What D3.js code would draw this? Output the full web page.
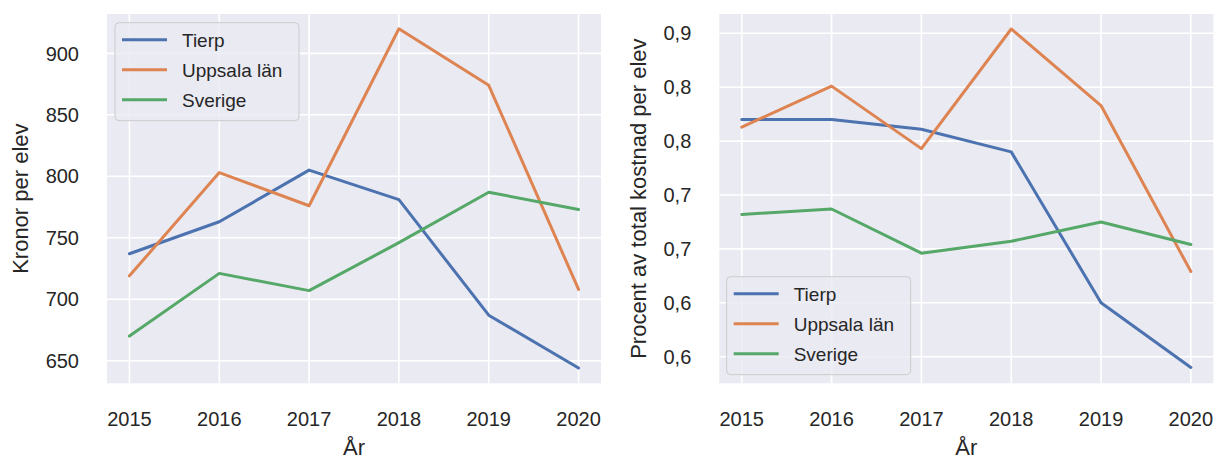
<!DOCTYPE html>
<html>
<head>
<meta charset="utf-8">
<script src="https://cdn.jsdelivr.net/npm/d3@7"></script>
<style>
  body { margin: 0; background: #fff; }
  svg { display: block; font-family: "Liberation Sans", Arial, sans-serif; }
  .tick-label { fill: #262626; font-size: 20px; }
  .axis-label { fill: #262626; font-size: 22px; }
  .legend-text { fill: #262626; font-size: 19px; }
</style>
</head>
<body>
<svg id="chart" width="1217" height="461"></svg>
<script>
// ---- data ----
const years = [2015, 2016, 2017, 2018, 2019, 2020]
const seriesNames = ['Tierp', 'Uppsala län', 'Sverige']

const kronorTierp = [737, 763, 805, 781, 687, 644]
const kronorUppsala = [719, 803, 776, 920, 874, 708]
const kronorSverige = [670, 721, 707, 746, 787, 773]

const andelTierp = [0.770, 0.770, 0.761, 0.740, 0.600, 0.540]
const andelUppsala = [0.763, 0.801, 0.743, 0.854, 0.783, 0.629]
const andelSverige = [0.682, 0.687, 0.646, 0.657, 0.675, 0.654]

const kronorTicks = [650, 700, 750, 800, 850, 900]
const kronorTickLabels = ['650', '700', '750', '800', '850', '900']
const andelTicks = [0.55, 0.60, 0.65, 0.70, 0.75, 0.80, 0.85]
const andelTickLabels = ['0,6', '0,6', '0,7', '0,7', '0,8', '0,8', '0,9']

const kronorDomain = [631.6, 932]
const andelDomain = [0.5253, 0.8679]

const COLORS = ['#4c72b0', '#dd8452', '#55a868']
const BG = '#eaeaf2'
const TOP = 14
const BOTTOM = 383.3
const PLOT_W = 494

const svg = d3.select('#chart')

const drawPanel = ({ left, series, ticks, tickLabels, domain, yLabel, yLabelX, legendPos }) => {
  const g = svg.append('g')

  const x = d3.scaleLinear().domain([2014.75, 2020.25]).range([left, left + PLOT_W])
  const y = d3.scaleLinear().domain(domain).range([BOTTOM, TOP])

  g.append('rect')
    .attr('x', left)
    .attr('y', TOP)
    .attr('width', PLOT_W)
    .attr('height', BOTTOM - TOP)
    .attr('fill', BG)

  // grid
  g.selectAll('.hgrid')
    .data(ticks)
    .enter()
    .append('line')
    .attr('x1', left)
    .attr('x2', left + PLOT_W)
    .attr('y1', (d) => y(d))
    .attr('y2', (d) => y(d))
    .attr('stroke', '#fff')
    .attr('stroke-width', 1.6)

  g.selectAll('.vgrid')
    .data(years)
    .enter()
    .append('line')
    .attr('x1', (d) => x(d))
    .attr('x2', (d) => x(d))
    .attr('y1', TOP)
    .attr('y2', BOTTOM)
    .attr('stroke', '#fff')
    .attr('stroke-width', 1.6)

  // tick labels
  g.selectAll('.ytick')
    .data(ticks)
    .enter()
    .append('text')
    .attr('class', 'tick-label')
    .attr('x', left - 28)
    .attr('y', (d) => y(d))
    .attr('dy', '0.36em')
    .attr('text-anchor', 'end')
    .text((d, i) => tickLabels[i])

  g.selectAll('.xtick')
    .data(years)
    .enter()
    .append('text')
    .attr('class', 'tick-label')
    .attr('x', (d) => x(d))
    .attr('y', BOTTOM + 28.4)
    .attr('dy', '0.71em')
    .attr('text-anchor', 'middle')
    .text((d) => d)

  // axis labels
  g.append('text')
    .attr('class', 'axis-label')
    .attr('x', left + PLOT_W / 2)
    .attr('y', 455)
    .attr('text-anchor', 'middle')
    .text('År')

  g.append('text')
    .attr('class', 'axis-label')
    .attr('transform', `translate(${yLabelX},${(TOP + BOTTOM) / 2}) rotate(-90)`)
    .attr('text-anchor', 'middle')
    .text(yLabel)

  // lines
  const line = d3
    .line()
    .x((d, i) => x(years[i]))
    .y((d) => y(d))

  g.selectAll('.series')
    .data(series)
    .enter()
    .append('path')
    .attr('d', line)
    .attr('fill', 'none')
    .attr('stroke', (d, i) => COLORS[i])
    .attr('stroke-width', 3)
    .attr('stroke-linejoin', 'round')
    .attr('stroke-linecap', 'round')

  // legend
  const lg = g.append('g').attr('transform', `translate(${legendPos[0]},${legendPos[1]})`)

  lg.append('rect')
    .attr('width', 184)
    .attr('height', 98)
    .attr('rx', 4)
    .attr('fill', BG)
    .attr('fill-opacity', 0.8)
    .attr('stroke', '#cccccc')
    .attr('stroke-width', 1)

  const items = lg
    .selectAll('.item')
    .data(seriesNames)
    .enter()
    .append('g')
    .attr('transform', (d, i) => `translate(0,${17 + i * 30})`)

  items
    .append('line')
    .attr('x1', 7)
    .attr('x2', 52)
    .attr('stroke', (d, i) => COLORS[i])
    .attr('stroke-width', 3)

  items
    .append('text')
    .attr('class', 'legend-text')
    .attr('x', 67)
    .attr('dy', '0.36em')
    .text((d) => d)
}

drawPanel({
  left: 107,
  series: [kronorTierp, kronorUppsala, kronorSverige],
  ticks: kronorTicks,
  tickLabels: kronorTickLabels,
  domain: kronorDomain,
  yLabel: 'Kronor per elev',
  yLabelX: 28,
  legendPos: [115, 22.7],
})

drawPanel({
  left: 719.3,
  series: [andelTierp, andelUppsala, andelSverige],
  ticks: andelTicks,
  tickLabels: andelTickLabels,
  domain: andelDomain,
  yLabel: 'Procent av total kostnad per elev',
  yLabelX: 646,
  legendPos: [726.7, 276.7],
})
</script>
</body>
</html>
